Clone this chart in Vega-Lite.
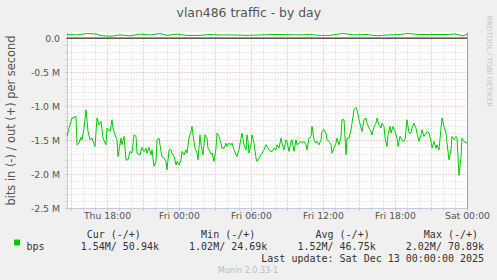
{
  "$schema": "https://vega.github.io/schema/vega-lite/v6.json",
  "width": 400,
  "height": 176,
  "autosize": {"type": "none"},
  "padding": {"left": 67, "top": 32, "right": 30, "bottom": 72},
  "background": "#f0f0f0",
  "config": {"view": {"fill": "#ffffff", "stroke": null}},
  "title": {"text": "Munin 2.0.33-1", "orient": "bottom", "anchor": "middle", "frame": "group", "dx": -19, "offset": 4, "font": "DejaVu Sans", "fontSize": 8, "fontWeight": "normal", "color": "#bbbbbb"},
  "datasets": {
    "inbps": [
      {"time": "2025-12-11T14:40", "bps": -1447000},
      {"time": "2025-12-11T14:50", "bps": -1324000},
      {"time": "2025-12-11T15:05", "bps": -1177000},
      {"time": "2025-12-11T15:25", "bps": -1153000},
      {"time": "2025-12-11T15:30", "bps": -1570000},
      {"time": "2025-12-11T15:40", "bps": -1545000},
      {"time": "2025-12-11T15:50", "bps": -1460000},
      {"time": "2025-12-11T15:55", "bps": -1496000},
      {"time": "2025-12-11T16:05", "bps": -1324000},
      {"time": "2025-12-11T16:15", "bps": -1054000},
      {"time": "2025-12-11T16:25", "bps": -1374000},
      {"time": "2025-12-11T16:35", "bps": -1496000},
      {"time": "2025-12-11T16:45", "bps": -1472000},
      {"time": "2025-12-11T17:00", "bps": -1595000},
      {"time": "2025-12-11T17:10", "bps": -1177000},
      {"time": "2025-12-11T17:20", "bps": -1275000},
      {"time": "2025-12-11T17:30", "bps": -1226000},
      {"time": "2025-12-11T17:40", "bps": -1472000},
      {"time": "2025-12-11T17:55", "bps": -1570000},
      {"time": "2025-12-11T18:00", "bps": -1324000},
      {"time": "2025-12-11T18:15", "bps": -1374000},
      {"time": "2025-12-11T18:25", "bps": -1202000},
      {"time": "2025-12-11T18:30", "bps": -1324000},
      {"time": "2025-12-11T18:40", "bps": -1423000},
      {"time": "2025-12-11T18:50", "bps": -1496000},
      {"time": "2025-12-11T18:55", "bps": -1742000},
      {"time": "2025-12-11T19:10", "bps": -1472000},
      {"time": "2025-12-11T19:15", "bps": -1570000},
      {"time": "2025-12-11T19:25", "bps": -1447000},
      {"time": "2025-12-11T19:35", "bps": -1791000},
      {"time": "2025-12-11T19:45", "bps": -1791000},
      {"time": "2025-12-11T19:55", "bps": -1668000},
      {"time": "2025-12-11T20:05", "bps": -1693000},
      {"time": "2025-12-11T20:15", "bps": -1423000},
      {"time": "2025-12-11T20:25", "bps": -1447000},
      {"time": "2025-12-11T20:30", "bps": -1693000},
      {"time": "2025-12-11T20:45", "bps": -1717000},
      {"time": "2025-12-11T20:55", "bps": -1609000},
      {"time": "2025-12-11T21:05", "bps": -1670000},
      {"time": "2025-12-11T21:15", "bps": -1619000},
      {"time": "2025-12-11T21:20", "bps": -1693000},
      {"time": "2025-12-11T21:30", "bps": -1609000},
      {"time": "2025-12-11T21:40", "bps": -1717000},
      {"time": "2025-12-11T21:45", "bps": -1644000},
      {"time": "2025-12-11T21:55", "bps": -1889000},
      {"time": "2025-12-11T22:05", "bps": -1815000},
      {"time": "2025-12-11T22:10", "bps": -1496000},
      {"time": "2025-12-11T22:20", "bps": -1472000},
      {"time": "2025-12-11T22:30", "bps": -1668000},
      {"time": "2025-12-11T22:35", "bps": -1742000},
      {"time": "2025-12-11T22:45", "bps": -1766000},
      {"time": "2025-12-11T22:55", "bps": -1815000},
      {"time": "2025-12-11T23:00", "bps": -1938000},
      {"time": "2025-12-11T23:10", "bps": -1644000},
      {"time": "2025-12-11T23:20", "bps": -1644000},
      {"time": "2025-12-11T23:25", "bps": -1693000},
      {"time": "2025-12-11T23:35", "bps": -1742000},
      {"time": "2025-12-11T23:45", "bps": -1864000},
      {"time": "2025-12-11T23:50", "bps": -1815000},
      {"time": "2025-12-12T00:00", "bps": -1864000},
      {"time": "2025-12-12T00:10", "bps": -1791000},
      {"time": "2025-12-12T00:15", "bps": -1668000},
      {"time": "2025-12-12T00:25", "bps": -1717000},
      {"time": "2025-12-12T00:35", "bps": -1644000},
      {"time": "2025-12-12T00:40", "bps": -1693000},
      {"time": "2025-12-12T00:50", "bps": -1472000},
      {"time": "2025-12-12T01:00", "bps": -1374000},
      {"time": "2025-12-12T01:05", "bps": -1300000},
      {"time": "2025-12-12T01:10", "bps": -1423000},
      {"time": "2025-12-12T01:20", "bps": -1619000},
      {"time": "2025-12-12T01:30", "bps": -1693000},
      {"time": "2025-12-12T01:35", "bps": -1791000},
      {"time": "2025-12-12T01:45", "bps": -1423000},
      {"time": "2025-12-12T01:50", "bps": -1570000},
      {"time": "2025-12-12T02:00", "bps": -1717000},
      {"time": "2025-12-12T02:10", "bps": -1423000},
      {"time": "2025-12-12T02:20", "bps": -1472000},
      {"time": "2025-12-12T02:25", "bps": -1619000},
      {"time": "2025-12-12T02:30", "bps": -1644000},
      {"time": "2025-12-12T02:40", "bps": -1707000},
      {"time": "2025-12-12T02:45", "bps": -1693000},
      {"time": "2025-12-12T02:55", "bps": -1815000},
      {"time": "2025-12-12T03:05", "bps": -1619000},
      {"time": "2025-12-12T03:10", "bps": -1398000},
      {"time": "2025-12-12T03:20", "bps": -1447000},
      {"time": "2025-12-12T03:30", "bps": -1545000},
      {"time": "2025-12-12T03:35", "bps": -1619000},
      {"time": "2025-12-12T03:45", "bps": -1620000},
      {"time": "2025-12-12T03:55", "bps": -1545000},
      {"time": "2025-12-12T04:00", "bps": -1595000},
      {"time": "2025-12-12T04:10", "bps": -1545000},
      {"time": "2025-12-12T04:20", "bps": -1570000},
      {"time": "2025-12-12T04:25", "bps": -1545000},
      {"time": "2025-12-12T04:35", "bps": -1644000},
      {"time": "2025-12-12T04:45", "bps": -1717000},
      {"time": "2025-12-12T04:50", "bps": -1742000},
      {"time": "2025-12-12T05:00", "bps": -1644000},
      {"time": "2025-12-12T05:10", "bps": -1472000},
      {"time": "2025-12-12T05:15", "bps": -1398000},
      {"time": "2025-12-12T05:25", "bps": -1570000},
      {"time": "2025-12-12T05:35", "bps": -1644000},
      {"time": "2025-12-12T05:40", "bps": -1423000},
      {"time": "2025-12-12T05:45", "bps": -1521000},
      {"time": "2025-12-12T05:50", "bps": -1693000},
      {"time": "2025-12-12T06:00", "bps": -1570000},
      {"time": "2025-12-12T06:05", "bps": -1423000},
      {"time": "2025-12-12T06:15", "bps": -1545000},
      {"time": "2025-12-12T06:25", "bps": -1766000},
      {"time": "2025-12-12T06:30", "bps": -1815000},
      {"time": "2025-12-12T06:40", "bps": -1766000},
      {"time": "2025-12-12T06:50", "bps": -1717000},
      {"time": "2025-12-12T06:55", "bps": -1693000},
      {"time": "2025-12-12T07:05", "bps": -1644000},
      {"time": "2025-12-12T07:15", "bps": -1570000},
      {"time": "2025-12-12T07:20", "bps": -1595000},
      {"time": "2025-12-12T07:30", "bps": -1644000},
      {"time": "2025-12-12T07:40", "bps": -1668000},
      {"time": "2025-12-12T07:45", "bps": -1668000},
      {"time": "2025-12-12T07:55", "bps": -1619000},
      {"time": "2025-12-12T08:05", "bps": -1644000},
      {"time": "2025-12-12T08:10", "bps": -1570000},
      {"time": "2025-12-12T08:20", "bps": -1619000},
      {"time": "2025-12-12T08:30", "bps": -1472000},
      {"time": "2025-12-12T08:35", "bps": -1545000},
      {"time": "2025-12-12T08:45", "bps": -1644000},
      {"time": "2025-12-12T08:55", "bps": -1496000},
      {"time": "2025-12-12T09:00", "bps": -1521000},
      {"time": "2025-12-12T09:10", "bps": -1668000},
      {"time": "2025-12-12T09:20", "bps": -1521000},
      {"time": "2025-12-12T09:25", "bps": -1496000},
      {"time": "2025-12-12T09:35", "bps": -1668000},
      {"time": "2025-12-12T09:45", "bps": -1496000},
      {"time": "2025-12-12T09:50", "bps": -1570000},
      {"time": "2025-12-12T10:00", "bps": -1545000},
      {"time": "2025-12-12T10:10", "bps": -1521000},
      {"time": "2025-12-12T10:15", "bps": -1545000},
      {"time": "2025-12-12T10:25", "bps": -1521000},
      {"time": "2025-12-12T10:35", "bps": -1570000},
      {"time": "2025-12-12T10:40", "bps": -1644000},
      {"time": "2025-12-12T10:50", "bps": -1472000},
      {"time": "2025-12-12T11:00", "bps": -1447000},
      {"time": "2025-12-12T11:05", "bps": -1300000},
      {"time": "2025-12-12T11:15", "bps": -1496000},
      {"time": "2025-12-12T11:25", "bps": -1545000},
      {"time": "2025-12-12T11:30", "bps": -1521000},
      {"time": "2025-12-12T11:40", "bps": -1570000},
      {"time": "2025-12-12T11:50", "bps": -1496000},
      {"time": "2025-12-12T11:55", "bps": -1374000},
      {"time": "2025-12-12T12:05", "bps": -1349000},
      {"time": "2025-12-12T12:15", "bps": -1398000},
      {"time": "2025-12-12T12:20", "bps": -1496000},
      {"time": "2025-12-12T12:30", "bps": -1521000},
      {"time": "2025-12-12T12:40", "bps": -1570000},
      {"time": "2025-12-12T12:45", "bps": -1693000},
      {"time": "2025-12-12T12:55", "bps": -1619000},
      {"time": "2025-12-12T13:05", "bps": -1545000},
      {"time": "2025-12-12T13:10", "bps": -1472000},
      {"time": "2025-12-12T13:20", "bps": -1570000},
      {"time": "2025-12-12T13:30", "bps": -1447000},
      {"time": "2025-12-12T13:35", "bps": -1202000},
      {"time": "2025-12-12T13:45", "bps": -1202000},
      {"time": "2025-12-12T13:55", "bps": -1717000},
      {"time": "2025-12-12T14:00", "bps": -1472000},
      {"time": "2025-12-12T14:10", "bps": -1472000},
      {"time": "2025-12-12T14:20", "bps": -1349000},
      {"time": "2025-12-12T14:25", "bps": -1251000},
      {"time": "2025-12-12T14:35", "bps": -1054000},
      {"time": "2025-12-12T14:45", "bps": -1020000},
      {"time": "2025-12-12T14:50", "bps": -1054000},
      {"time": "2025-12-12T15:00", "bps": -1202000},
      {"time": "2025-12-12T15:10", "bps": -1324000},
      {"time": "2025-12-12T15:15", "bps": -1374000},
      {"time": "2025-12-12T15:25", "bps": -1202000},
      {"time": "2025-12-12T15:35", "bps": -1177000},
      {"time": "2025-12-12T15:40", "bps": -1251000},
      {"time": "2025-12-12T15:50", "bps": -1324000},
      {"time": "2025-12-12T16:00", "bps": -1374000},
      {"time": "2025-12-12T16:05", "bps": -1423000},
      {"time": "2025-12-12T16:15", "bps": -1300000},
      {"time": "2025-12-12T16:25", "bps": -1251000},
      {"time": "2025-12-12T16:30", "bps": -1177000},
      {"time": "2025-12-12T16:40", "bps": -1275000},
      {"time": "2025-12-12T16:50", "bps": -1324000},
      {"time": "2025-12-12T16:55", "bps": -1251000},
      {"time": "2025-12-12T17:05", "bps": -1300000},
      {"time": "2025-12-12T17:10", "bps": -1472000},
      {"time": "2025-12-12T17:20", "bps": -1595000},
      {"time": "2025-12-12T17:25", "bps": -1423000},
      {"time": "2025-12-12T17:35", "bps": -1300000},
      {"time": "2025-12-12T17:40", "bps": -1398000},
      {"time": "2025-12-12T17:50", "bps": -1300000},
      {"time": "2025-12-12T18:00", "bps": -1374000},
      {"time": "2025-12-12T18:10", "bps": -1472000},
      {"time": "2025-12-12T18:15", "bps": -1595000},
      {"time": "2025-12-12T18:25", "bps": -1447000},
      {"time": "2025-12-12T18:30", "bps": -1472000},
      {"time": "2025-12-12T18:40", "bps": -1521000},
      {"time": "2025-12-12T18:50", "bps": -1496000},
      {"time": "2025-12-12T19:00", "bps": -1202000},
      {"time": "2025-12-12T19:10", "bps": -1398000},
      {"time": "2025-12-12T19:20", "bps": -1398000},
      {"time": "2025-12-12T19:25", "bps": -1324000},
      {"time": "2025-12-12T19:35", "bps": -1251000},
      {"time": "2025-12-12T19:45", "bps": -1324000},
      {"time": "2025-12-12T19:50", "bps": -1398000},
      {"time": "2025-12-12T20:00", "bps": -1521000},
      {"time": "2025-12-12T20:10", "bps": -1423000},
      {"time": "2025-12-12T20:15", "bps": -1349000},
      {"time": "2025-12-12T20:25", "bps": -1447000},
      {"time": "2025-12-12T20:35", "bps": -1398000},
      {"time": "2025-12-12T20:40", "bps": -1374000},
      {"time": "2025-12-12T20:50", "bps": -1398000},
      {"time": "2025-12-12T21:00", "bps": -1521000},
      {"time": "2025-12-12T21:05", "bps": -1619000},
      {"time": "2025-12-12T21:15", "bps": -1521000},
      {"time": "2025-12-12T21:25", "bps": -1619000},
      {"time": "2025-12-12T21:30", "bps": -1570000},
      {"time": "2025-12-12T21:40", "bps": -1644000},
      {"time": "2025-12-12T21:50", "bps": -1324000},
      {"time": "2025-12-12T21:55", "bps": -1177000},
      {"time": "2025-12-12T22:05", "bps": -1300000},
      {"time": "2025-12-12T22:15", "bps": -1398000},
      {"time": "2025-12-12T22:20", "bps": -1545000},
      {"time": "2025-12-12T22:30", "bps": -1791000},
      {"time": "2025-12-12T22:40", "bps": -1644000},
      {"time": "2025-12-12T22:45", "bps": -1447000},
      {"time": "2025-12-12T22:55", "bps": -1496000},
      {"time": "2025-12-12T23:05", "bps": -1447000},
      {"time": "2025-12-12T23:10", "bps": -1472000},
      {"time": "2025-12-12T23:20", "bps": -2020000},
      {"time": "2025-12-12T23:30", "bps": -1742000},
      {"time": "2025-12-12T23:35", "bps": -1472000},
      {"time": "2025-12-12T23:45", "bps": -1520000},
      {"time": "2025-12-12T23:55", "bps": -1540000},
      {"time": "2025-12-13T00:00", "bps": -1540000}
    ],
    "outbps": [
      {"time": "2025-12-11T14:40", "bps": 53000},
      {"time": "2025-12-11T15:30", "bps": 47000},
      {"time": "2025-12-11T16:20", "bps": 68000},
      {"time": "2025-12-11T17:10", "bps": 60000},
      {"time": "2025-12-11T17:25", "bps": 40000},
      {"time": "2025-12-11T18:15", "bps": 26000},
      {"time": "2025-12-11T19:05", "bps": 47000},
      {"time": "2025-12-11T19:55", "bps": 33000},
      {"time": "2025-12-11T20:45", "bps": 60000},
      {"time": "2025-12-11T21:35", "bps": 47000},
      {"time": "2025-12-11T22:25", "bps": 68000},
      {"time": "2025-12-11T23:00", "bps": 40000},
      {"time": "2025-12-11T23:50", "bps": 60000},
      {"time": "2025-12-12T00:40", "bps": 40000},
      {"time": "2025-12-12T01:45", "bps": 40000},
      {"time": "2025-12-12T02:35", "bps": 53000},
      {"time": "2025-12-12T03:25", "bps": 47000},
      {"time": "2025-12-12T04:30", "bps": 47000},
      {"time": "2025-12-12T05:40", "bps": 40000},
      {"time": "2025-12-12T06:45", "bps": 47000},
      {"time": "2025-12-12T07:50", "bps": 53000},
      {"time": "2025-12-12T08:40", "bps": 53000},
      {"time": "2025-12-12T10:05", "bps": 47000},
      {"time": "2025-12-12T10:55", "bps": 53000},
      {"time": "2025-12-12T11:45", "bps": 40000},
      {"time": "2025-12-12T12:35", "bps": 40000},
      {"time": "2025-12-12T13:40", "bps": 70000},
      {"time": "2025-12-12T14:30", "bps": 47000},
      {"time": "2025-12-12T15:40", "bps": 53000},
      {"time": "2025-12-12T16:30", "bps": 33000},
      {"time": "2025-12-12T17:20", "bps": 47000},
      {"time": "2025-12-12T18:25", "bps": 53000},
      {"time": "2025-12-12T19:00", "bps": 68000},
      {"time": "2025-12-12T20:05", "bps": 53000},
      {"time": "2025-12-12T21:10", "bps": 53000},
      {"time": "2025-12-12T22:20", "bps": 53000},
      {"time": "2025-12-12T23:00", "bps": 60000},
      {"time": "2025-12-12T23:40", "bps": 33000},
      {"time": "2025-12-12T23:55", "bps": 51000},
      {"time": "2025-12-13T00:00", "bps": 50940}
    ]
  },
  "layer": [
    {
      "data": {"values": [{}]},
      "mark": {"type": "rule", "color": "#000000", "strokeWidth": 1},
      "encoding": {"y": {"datum": 0, "type": "quantitative", "axis": null}}
    },
    {
      "data": {"name": "inbps"},
      "mark": {"type": "line", "strokeWidth": 1},
      "encoding": {
        "x": {
          "field": "time", "type": "temporal",
          "scale": {"nice": false},
          "axis": {
            "orient": "bottom",
            "tickCount": 34,
            "labelExpr": "hours(datum.value) % 6 == 0 ? timeFormat(datum.value, '%a %H:%M') : ''",
            "labelOverlap": false, "labelFlush": false, "labelBound": false,
            "labelFont": "DejaVu Sans", "labelFontSize": 9.3, "labelColor": "#555555",
            "labelPadding": 1, "labelBaseline": "top",
            "tickSize": 2,
            "tickColor": {"condition": {"test": "hours(datum.value) % 3 == 0", "value": "#f0a0a0"}, "value": "#cccccc"},
            "grid": true,
            "gridColor": {"condition": {"test": "hours(datum.value) % 3 == 0", "value": "#f0a0a0"}, "value": "#d4d4d4"},
            "gridDash": [1, 2], "gridWidth": 1,
            "domain": true, "domainColor": "#c8c8e0", "domainWidth": 1,
            "title": [
              "\u200b\u00a0\u00a0\u00a0\u00a0\u00a0\u00a0\u00a0\u00a0\u00a0\u00a0Cur (-/+)\u00a0\u00a0\u00a0\u00a0\u00a0\u00a0\u00a0\u00a0\u00a0\u00a0Min (-/+)\u00a0\u00a0\u00a0\u00a0\u00a0\u00a0\u00a0\u00a0\u00a0\u00a0Avg (-/+)\u00a0\u00a0\u00a0\u00a0\u00a0\u00a0\u00a0\u00a0\u00a0Max (-/+)",
              "bps\u00a0\u00a0\u00a0\u00a0\u00a0\u00a01.54M/\u00a050.94k\u00a0\u00a0\u00a0\u00a0\u00a01.02M/\u00a024.69k\u00a0\u00a0\u00a0\u00a0\u00a01.52M/\u00a046.75k\u00a0\u00a0\u00a0\u00a0\u00a02.02M/\u00a070.89k",
              "\u200b\u00a0\u00a0\u00a0\u00a0\u00a0\u00a0\u00a0\u00a0\u00a0\u00a0\u00a0\u00a0\u00a0\u00a0\u00a0\u00a0\u00a0\u00a0\u00a0\u00a0\u00a0\u00a0\u00a0\u00a0\u00a0\u00a0\u00a0\u00a0\u00a0\u00a0\u00a0\u00a0\u00a0\u00a0\u00a0\u00a0\u00a0\u00a0\u00a0Last update: Sat Dec 13 00:00:00 2025"
            ],
            "titleFont": "DejaVu Sans Mono", "titleFontSize": 10, "titleFontWeight": "normal", "titleColor": "#333333",
            "titleAnchor": "start", "titleAlign": "left", "titleX": -41, "titleY": 29, "titleBaseline": "alphabetic", "titleLineHeight": 12.2
          }
        },
        "y": {
          "field": "bps", "type": "quantitative",
          "scale": {"domain": [-2500000, 90000], "nice": false, "zero": false},
          "axis": {
            "orient": "left",
            "tickCount": 26,
            "labelExpr": "datum.value % 500000 == 0 ? (datum.value == 0 ? '0.0\u00a0\u00a0' : '-' + format(-datum.value / 1000000, '.1f') + ' M') : ''",
            "labelOverlap": false, "labelBound": false, "labelFlush": false,
            "labelFont": "DejaVu Sans", "labelFontSize": 9.3, "labelColor": "#555555",
            "labelPadding": 5.5, "labelBaseline": "middle",
            "tickSize": 2,
            "tickColor": {"condition": {"test": "datum.value % 500000 == 0", "value": "#f0a0a0"}, "value": "#cccccc"},
            "grid": true,
            "gridColor": {"condition": {"test": "datum.value % 500000 == 0", "value": "#f0a0a0"}, "value": "#d4d4d4"},
            "gridDash": [1, 2], "gridWidth": 1,
            "domain": true, "domainColor": "#c8c8e0", "domainWidth": 1,
            "title": "bits in (-) / out (+) per second",
            "titleFont": "DejaVu Sans", "titleFontSize": 11.4, "titleFontWeight": "normal", "titleColor": "#555555",
            "titleAngle": -90, "titleX": -56, "titleY": 88, "titleAlign": "center", "titleBaseline": "middle"
          }
        },
        "color": {
          "datum": "bps",
          "scale": {"range": ["#00cc00"]},
          "legend": {
            "orient": "none", "legendX": -53, "legendY": 207.5, "title": null, "padding": 0,
            "symbolType": "square", "symbolSize": 25, "symbolFillColor": "#00cc00", "symbolStrokeColor": "#00cc00", "symbolStrokeWidth": 1,
            "labelExpr": "''", "labelFontSize": 1, "labelOffset": 0
          }
        }
      }
    },
    {
      "data": {"name": "outbps"},
      "mark": {"type": "line", "strokeWidth": 1},
      "encoding": {
        "x": {
          "field": "time", "type": "temporal",
          "scale": {"nice": false},
          "axis": {
            "orient": "top", "labels": false, "ticks": false, "domain": false, "grid": false,
            "title": "vlan486 traffic - by day",
            "titleFont": "DejaVu Sans", "titleFontSize": 12.4, "titleFontWeight": "normal", "titleColor": "#555555",
            "titleX": 181.3, "titleY": -15.5, "titleAlign": "center", "titleBaseline": "alphabetic"
          }
        },
        "y": {
          "field": "bps", "type": "quantitative",
          "scale": {"domain": [-2500000, 90000], "nice": false, "zero": false},
          "axis": {
            "orient": "right", "labels": false, "ticks": false, "grid": false,
            "domain": true, "domainColor": "#a0a0a0", "domainWidth": 1,
            "title": "RRDTOOL / TOBI OETIKER",
            "titleFont": "DejaVu Sans", "titleFontSize": 7.1, "titleFontWeight": "normal", "titleColor": "#c4c4c4",
            "titleAngle": 90, "titleX": 21, "titleY": 29, "titleAlign": "center", "titleBaseline": "middle"
          }
        },
        "color": {"datum": "bps"}
      }
    }
  ],
  "resolve": {"axis": {"x": "independent", "y": "independent"}}
}
